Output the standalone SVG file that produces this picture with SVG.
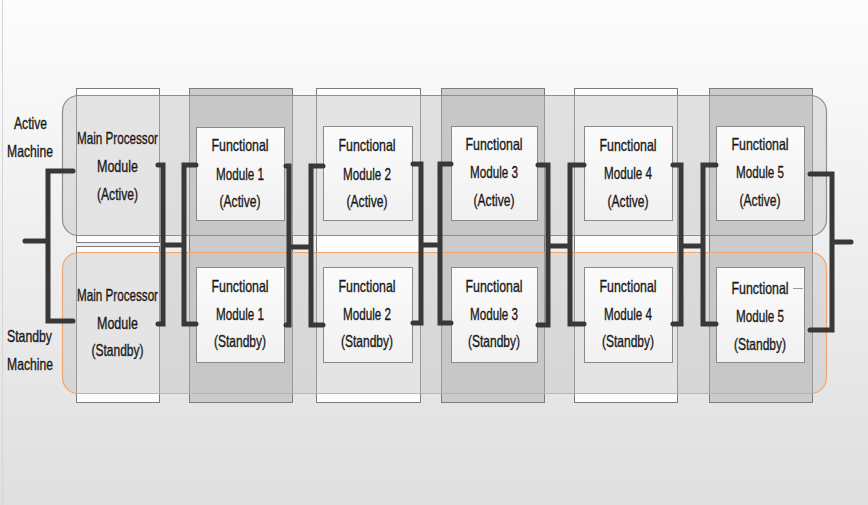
<svg xmlns="http://www.w3.org/2000/svg" width="868" height="505" viewBox="0 0 868 505">
  <defs>
    <linearGradient id="bg" x1="0" y1="0" x2="0" y2="1">
      <stop offset="0" stop-color="#fcfcfc"/>
      <stop offset="0.2" stop-color="#f7f7f7"/>
      <stop offset="1" stop-color="#dfdfdf"/>
    </linearGradient>
    <linearGradient id="inner" x1="0" y1="0" x2="0" y2="1">
      <stop offset="0" stop-color="#fbfbfb"/>
      <stop offset="1" stop-color="#f1f1f1"/>
    </linearGradient>
  </defs>
  <style>
    .col-light { fill: #fdfdfd; stroke: #7c7c7c; stroke-width: 1; }
    .col-dark { fill: #cbcbcb; stroke: #7c7c7c; stroke-width: 1; }
    .machine { fill: rgba(192,192,192,0.42); stroke-width: 1.2; }
    .machine-active { stroke: #8e8e8e; }
    .machine-standby { stroke: #f0a670; }
    .module { fill: url(#inner); stroke: #8a8a8a; stroke-width: 1; }
    .wire { fill: none; stroke: #383838; stroke-width: 5; stroke-linecap: round; stroke-linejoin: miter; }
    text { font-family: "Liberation Sans", Arial, sans-serif; font-size: 16.5px; fill: #1a1a1a; stroke: #1a1a1a; stroke-width: 0.35; text-anchor: middle; }
  </style>

  <!-- page background -->
  <rect x="0" y="0" width="868" height="505" fill="url(#bg)"/>
  <line x1="2.5" y1="0" x2="2.5" y2="505" stroke="#d6d6d6" stroke-width="1"/>

  <!-- column bands behind each module pair -->
  <g id="columns">
    <rect class="col-light" x="76.5" y="88.5" width="83" height="154"/>
    <rect class="col-light" x="76.5" y="246.5" width="83" height="156"/>
    <rect class="col-dark" x="189.5" y="88.5" width="103" height="314"/>
    <rect class="col-light" x="316.5" y="88.5" width="104" height="314"/>
    <rect class="col-dark" x="441.5" y="88.5" width="103" height="314"/>
    <rect class="col-light" x="574.5" y="88.5" width="103" height="314"/>
    <rect class="col-dark" x="709.5" y="88.5" width="103" height="314"/>
  </g>

  <!-- machine frames -->
  <g id="active-machine">
    <rect class="machine machine-active" x="62.5" y="95.5" width="764" height="140" rx="16"/>
    <text x="30.5" y="129" textLength="33" lengthAdjust="spacingAndGlyphs">Active</text>
    <text x="30" y="157" textLength="46" lengthAdjust="spacingAndGlyphs">Machine</text>
  </g>
  <g id="standby-machine">
    <rect class="machine machine-standby" x="62.5" y="252.5" width="764" height="141" rx="16"/>
    <text x="29.5" y="342" textLength="45" lengthAdjust="spacingAndGlyphs">Standby</text>
    <text x="30" y="370" textLength="46" lengthAdjust="spacingAndGlyphs">Machine</text>
  </g>

  <!-- main processor modules -->
  <g id="mp-active">
    <text x="117.5" y="144" textLength="81" lengthAdjust="spacingAndGlyphs">Main Processor</text>
    <text x="117.5" y="172" textLength="41" lengthAdjust="spacingAndGlyphs">Module</text>
    <text x="117.5" y="200" textLength="41" lengthAdjust="spacingAndGlyphs">(Active)</text>
  </g>
  <g id="mp-standby">
    <text x="117.5" y="301" textLength="81" lengthAdjust="spacingAndGlyphs">Main Processor</text>
    <text x="117.5" y="329" textLength="41" lengthAdjust="spacingAndGlyphs">Module</text>
    <text x="117.5" y="356" textLength="52" lengthAdjust="spacingAndGlyphs">(Standby)</text>
  </g>

  <!-- functional modules, active row -->
  <g id="fm1-active">
    <rect class="module" x="196.5" y="127.5" width="88" height="93"/>
    <text x="240" y="151" textLength="57" lengthAdjust="spacingAndGlyphs">Functional</text>
    <text x="240" y="180" textLength="48" lengthAdjust="spacingAndGlyphs">Module 1</text>
    <text x="240" y="207" textLength="41" lengthAdjust="spacingAndGlyphs">(Active)</text>
  </g>
  <g id="fm2-active">
    <rect class="module" x="323.5" y="126.5" width="89" height="94"/>
    <text x="367" y="151" textLength="57" lengthAdjust="spacingAndGlyphs">Functional</text>
    <text x="367" y="180" textLength="48" lengthAdjust="spacingAndGlyphs">Module 2</text>
    <text x="367" y="207" textLength="41" lengthAdjust="spacingAndGlyphs">(Active)</text>
  </g>
  <g id="fm3-active">
    <rect class="module" x="451.5" y="126.5" width="86" height="94"/>
    <text x="494" y="150" textLength="57" lengthAdjust="spacingAndGlyphs">Functional</text>
    <text x="494" y="178" textLength="48" lengthAdjust="spacingAndGlyphs">Module 3</text>
    <text x="494" y="206" textLength="41" lengthAdjust="spacingAndGlyphs">(Active)</text>
  </g>
  <g id="fm4-active">
    <rect class="module" x="584.5" y="126.5" width="88" height="94"/>
    <text x="628" y="151" textLength="57" lengthAdjust="spacingAndGlyphs">Functional</text>
    <text x="628" y="179" textLength="48" lengthAdjust="spacingAndGlyphs">Module 4</text>
    <text x="628" y="207" textLength="41" lengthAdjust="spacingAndGlyphs">(Active)</text>
  </g>
  <g id="fm5-active">
    <rect class="module" x="716.5" y="126.5" width="88" height="94"/>
    <text x="760" y="150" textLength="57" lengthAdjust="spacingAndGlyphs">Functional</text>
    <text x="760" y="178" textLength="48" lengthAdjust="spacingAndGlyphs">Module 5</text>
    <text x="760" y="206" textLength="41" lengthAdjust="spacingAndGlyphs">(Active)</text>
  </g>

  <!-- functional modules, standby row -->
  <g id="fm1-standby">
    <rect class="module" x="196.5" y="267.5" width="88" height="95"/>
    <text x="240" y="292" textLength="57" lengthAdjust="spacingAndGlyphs">Functional</text>
    <text x="240" y="320" textLength="48" lengthAdjust="spacingAndGlyphs">Module 1</text>
    <text x="240" y="347" textLength="52" lengthAdjust="spacingAndGlyphs">(Standby)</text>
  </g>
  <g id="fm2-standby">
    <rect class="module" x="323.5" y="267.5" width="89" height="95"/>
    <text x="367" y="292" textLength="57" lengthAdjust="spacingAndGlyphs">Functional</text>
    <text x="367" y="320" textLength="48" lengthAdjust="spacingAndGlyphs">Module 2</text>
    <text x="367" y="347" textLength="52" lengthAdjust="spacingAndGlyphs">(Standby)</text>
  </g>
  <g id="fm3-standby">
    <rect class="module" x="451.5" y="267.5" width="86" height="95"/>
    <text x="494" y="292" textLength="57" lengthAdjust="spacingAndGlyphs">Functional</text>
    <text x="494" y="320" textLength="48" lengthAdjust="spacingAndGlyphs">Module 3</text>
    <text x="494" y="347" textLength="52" lengthAdjust="spacingAndGlyphs">(Standby)</text>
  </g>
  <g id="fm4-standby">
    <rect class="module" x="584.5" y="267.5" width="88" height="95"/>
    <text x="628" y="292" textLength="57" lengthAdjust="spacingAndGlyphs">Functional</text>
    <text x="628" y="320" textLength="48" lengthAdjust="spacingAndGlyphs">Module 4</text>
    <text x="628" y="347" textLength="52" lengthAdjust="spacingAndGlyphs">(Standby)</text>
  </g>
  <g id="fm5-standby">
    <rect class="module" x="716.5" y="267.5" width="88" height="95"/>
    <line x1="793" y1="288.5" x2="803" y2="288.5" stroke="#9a9a9a" stroke-width="1"/>
    <text x="760" y="294" textLength="57" lengthAdjust="spacingAndGlyphs">Functional</text>
    <text x="760" y="322" textLength="48" lengthAdjust="spacingAndGlyphs">Module 5</text>
    <text x="760" y="350" textLength="52" lengthAdjust="spacingAndGlyphs">(Standby)</text>
  </g>

  <!-- bus connectors: each stage fans out to both machines -->
  <g id="connectors" class="wire">
    <path class="wire" d="M25 241 H48 M73 171 H48 V321 H73"/>
    <path class="wire" d="M158 165 H163 V324 H158 M163 245 H184 M196 165 H184 V324 H196"/>
    <path class="wire" d="M286 166 H289 V325 H286 M289 247 H311 M323 166 H311 V325 H323"/>
    <path class="wire" d="M413 164 H421 V323 H413 M421 245 H440 M451 164 H440 V323 H451"/>
    <path class="wire" d="M538 165 H548 V325 H538 M548 246 H570 M584 165 H570 V324 H584"/>
    <path class="wire" d="M673 165 H681 V324 H673 M681 246 H703 M716 165 H703 V324 H716"/>
    <path class="wire" d="M810 174 H832 V330 H810 M832 242 H851"/>
  </g>
</svg>
